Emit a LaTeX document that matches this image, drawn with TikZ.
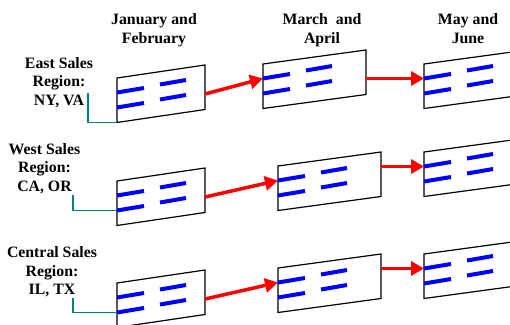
\documentclass[tikz,border=0pt]{standalone}
\usepackage{fontspec}
\setmainfont{Liberation Serif}
\usetikzlibrary{arrows.meta}
\definecolor{leadteal}{RGB}{0,128,128}
\tikzset{
  sheet/.style={draw=black, line width=1.2pt, line join=miter},
  bar/.style={draw=blue, line width=4pt},
  flow/.style={draw=red, line width=3.5pt, -{Triangle[length=13pt,width=14pt]}},
  lead/.style={draw=leadteal, line width=1.5pt},
  lbl/.style={align=center, anchor=north, inner sep=0pt,
    font=\bfseries\fontsize{15.8}{18.5}\selectfont},
}
% A slanted data sheet with two pairs of blue bars.
% #1 name, #2 left x, #3 top-left y, #4 width, #5 rise of the top edge
\newcommand\salessheet[5]{%
  \begin{scope}[shift={(#2,#3)}]
    \draw[sheet] (0,0) -- (#4,-#5) -- (#4,44.5-#5) -- (0,44.5) -- cycle;
    \coordinate (#1-tr) at (#4,-#5);
    \coordinate (#1-bl) at (0,44.5);
    \coordinate (#1-in) at (0,14.5);
    \coordinate (#1-in2) at (0,29.5);
    \draw[bar] (#1-in) -- ++(27,-4.5);
    \draw[bar] (#1-in2) -- ++(27,-4.5);
    \draw[bar] (43,6.5) -- ++(26,-4.5);
    \draw[bar] (43,21.5) -- ++(26,-4.5);
  \end{scope}}
\begin{document}
\begin{tikzpicture}[x=1pt,y=-1pt]
  \useasboundingbox (0,0) rectangle (510,324);
  \clip (0,0) rectangle (510,324);

  % column headings
  \node[lbl] (hdr-janfeb) at (154,13.5) {January and\\February};
  \node[lbl] (hdr-marapr) at (322,13.5) {March~~and\\April};
  \node[lbl] (hdr-mayjun) at (468,13.5) {May and\\June};

  % region labels
  \node[lbl] (east) at (59,57.3) {East Sales\\Region:\\NY, VA};
  \node[lbl] (west) at (44.5,143.3) {West Sales\\Region:\\CA, OR};
  \node[lbl] (central) at (52,246.7) {Central Sales\\Region:\\IL, TX};

  % sheets
  \salessheet{r1b1}{117}{78}{88}{13}
  \salessheet{r1b2}{263}{64}{103}{14}
  \salessheet{r1b3}{424}{64}{103}{14}
  \salessheet{r2b1}{117}{181}{88}{13}
  \salessheet{r2b2}{278}{166}{103}{14}
  \salessheet{r2b3}{424}{152}{103}{14}
  \salessheet{r3b1}{117}{283}{88}{13}
  \salessheet{r3b2}{278}{268}{103}{14}
  \salessheet{r3b3}{424}{254}{103}{14}

  % leaders from the labels
  \coordinate (east-tail) at (88,93);
  \coordinate (west-tail) at (73,195);
  \coordinate (central-tail) at (73,298);
  \draw[lead] (east-tail) |- (r1b1-bl);
  \draw[lead] (west-tail) |- (r2b1-in2);
  \draw[lead] (central-tail) |- (r3b1-in2);

  % flow between periods
  \draw[flow] ([yshift=-29pt]r1b1-tr) -- (r1b2-in);
  \draw[flow] (r1b2-tr |- r1b3-in) -- (r1b3-in);
  \draw[flow] ([yshift=-29pt]r2b1-tr) -- (r2b2-in);
  \draw[flow] (r2b2-tr |- r2b3-in) -- (r2b3-in);
  \draw[flow] ([yshift=-29pt]r3b1-tr) -- (r3b2-in);
  \draw[flow] (r3b2-tr |- r3b3-in) -- (r3b3-in);
\end{tikzpicture}
\end{document}
